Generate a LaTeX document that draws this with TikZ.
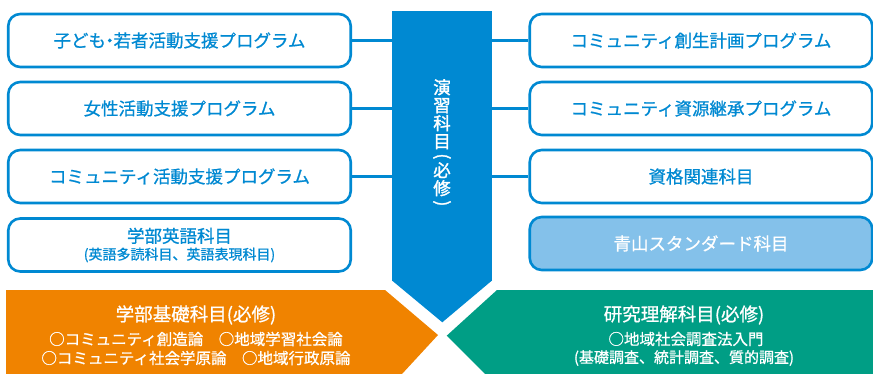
\documentclass[tikz,border=0pt]{standalone}
\usepackage{fontspec}
\usepackage{graphicx}
\setmainfont{Noto Sans CJK JP}[FakeBold=0.8]
\newfontfamily\jpbold{Noto Sans CJK JP}[FakeBold=1.6]
\definecolor{mblue}{RGB}{0,137,210}
\definecolor{lblue}{RGB}{132,193,234}
\definecolor{morange}{RGB}{240,131,0}
\definecolor{mgreen}{RGB}{0,158,133}
\tikzset{
  prog/.style={draw=mblue, line width=2.6pt, rounded corners=12pt, fill=white,
    minimum width=342.5pt, minimum height=53pt, inner sep=0pt, text=mblue,
    align=center, font=\fontsize{17.5}{20}\selectfont},
  link/.style={draw=mblue, line width=2.6pt},
  wtext/.style={text=white, inner sep=0pt, align=center},
}
\begin{document}
\begin{tikzpicture}[x=1pt,y=-1pt]
\useasboundingbox (0,0) rectangle (873,374);
% central column
\node[fill=mblue, minimum width=100pt, minimum height=270pt, inner sep=0pt, anchor=north west] (col) at (392,11) {};
\fill[mblue] (392,280.5) -- (492,280.5) -- (442.3,322.3) -- cycle;
\node[wtext, font=\jpbold\fontsize{17.5}{18}\selectfont] (coltxt) at (442,144)
  {演\\習\\科\\目\\[-4pt]\rotatebox[origin=c]{-90}{(}\\[-3pt]必\\修\\[-4pt]\rotatebox[origin=c]{-90}{)}};
% bottom arrows
\fill[morange] (6,290) -- (385,290) -- (438,335) -- (402,374) -- (6,374) -- cycle;
\fill[mgreen] (873,290) -- (497,290) -- (446.7,335.7) -- (485,374) -- (873,374) -- cycle;
\node[wtext, font=\fontsize{18.5}{20}\selectfont] (ot) at (196,315) {学部基礎科目(必修)};
\node[wtext, font=\fontsize{15.5}{18}\selectfont] (o1) at (196,339) {○コミュニティ創造論　○地域学習社会論};
\node[wtext, font=\fontsize{15.5}{18}\selectfont] (o2) at (196,358) {○コミュニティ社会学原論　○地域行政原論};
\node[wtext, font=\fontsize{18.5}{20}\selectfont] (gt) at (684,315) {研究理解科目(必修)};
\node[wtext, font=\fontsize{15.5}{18}\selectfont] (g1) at (686,339) {○地域社会調査法入門};
\node[wtext, font=\fontsize{15}{18}\selectfont] (g2) at (684,358) {(基礎調査、統計調査、質的調査)};
% left boxes
\node[prog] (l1) at (179.5,40.5) {子ども\hspace{-5pt}・\hspace{-5pt}若者活動支援プログラム};
\node[prog] (l2) at (179.5,108.5) {女性活動支援プログラム};
\node[prog] (l3) at (179.5,176.5) {コミュニティ活動支援プログラム};
\node[prog] (l4) at (179.5,245) {学部英語科目\\[-3pt]{\fontsize{14}{16}\selectfont (英語多読科目、英語表現科目)}};
% right boxes
\node[prog] (r1) at (701,40.5) {コミュニティ創生計画プログラム};
\node[prog] (r2) at (701,108.5) {コミュニティ資源継承プログラム};
\node[prog] (r3) at (701,176.5) {資格関連科目};
\node[prog, fill=lblue, text=white] (r4) at (701,243.5) {青山スタンダード科目};
% connectors
\draw[link] (l1.east) -- (l1.east -| col.west);
\draw[link] (l2.east) -- (l2.east -| col.west);
\draw[link] (l3.east) -- (l3.east -| col.west);
\draw[link] (r1.west) -- (r1.west -| col.east);
\draw[link] (r2.west) -- (r2.west -| col.east);
\draw[link] (r3.west) -- (r3.west -| col.east);
\end{tikzpicture}
\end{document}
